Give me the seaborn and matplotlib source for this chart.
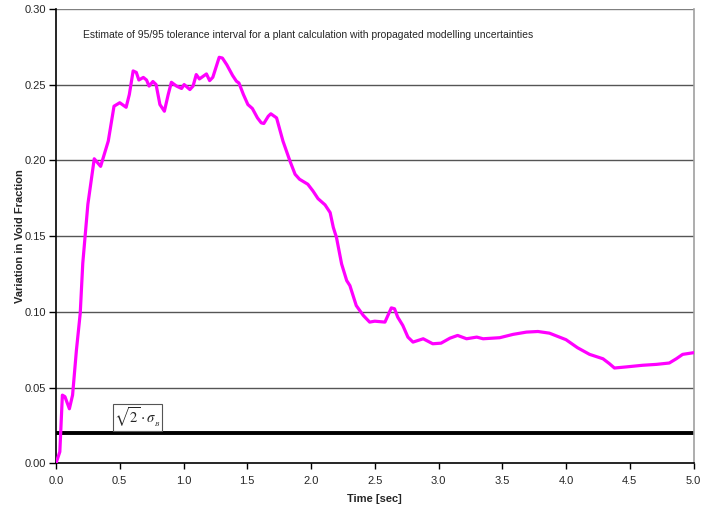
import matplotlib
matplotlib.use("Agg")
import matplotlib.pyplot as plt
import seaborn as sns
import pandas as pd

time_sec = [0.0, 0.03, 0.05, 0.07, 0.105, 0.13, 0.16, 0.19, 0.21, 0.25, 0.30, 0.35, 0.41,
            0.455, 0.50, 0.55, 0.575, 0.605, 0.63, 0.65, 0.685, 0.71, 0.73, 0.76, 0.785,
            0.815, 0.85, 0.88, 0.905, 0.945, 0.985, 1.005, 1.05, 1.075, 1.10, 1.125, 1.18,
            1.205, 1.23, 1.28, 1.305, 1.34, 1.385, 1.415, 1.435, 1.47, 1.505, 1.54, 1.58,
            1.61, 1.63, 1.665, 1.685, 1.73, 1.78, 1.835, 1.875, 1.91, 1.975, 2.015, 2.055,
            2.11, 2.15, 2.175, 2.20, 2.24, 2.28, 2.305, 2.355, 2.41, 2.46, 2.50, 2.58, 2.63,
            2.655, 2.68, 2.72, 2.76, 2.80, 2.88, 2.955, 3.02, 3.09, 3.15, 3.22, 3.30, 3.35,
            3.48, 3.585, 3.69, 3.78, 3.87, 4.0, 4.09, 4.185, 4.29, 4.34, 4.38, 4.47, 4.60,
            4.71, 4.81, 4.865, 4.915, 5.0]
void_variation = [0.0, 0.0076, 0.045, 0.044, 0.036, 0.045, 0.0745, 0.099, 0.132, 0.171, 0.201,
                  0.196, 0.2127, 0.2357, 0.238, 0.235, 0.2434, 0.259, 0.258, 0.253, 0.2547,
                  0.253, 0.249, 0.252, 0.25, 0.2368, 0.2324, 0.2434, 0.2515, 0.249, 0.2474,
                  0.25, 0.2467, 0.249, 0.2566, 0.2537, 0.257, 0.2526, 0.2548, 0.268, 0.2675,
                  0.263, 0.256, 0.2522, 0.251, 0.2434, 0.2368, 0.2342, 0.228, 0.2247, 0.2243,
                  0.2291, 0.2307, 0.228, 0.2127, 0.1995, 0.1908, 0.1875, 0.1842, 0.1798,
                  0.1747, 0.1706, 0.1655, 0.1557, 0.149, 0.1316, 0.1206, 0.1173, 0.1041,
                  0.0976, 0.0932, 0.0938, 0.0932, 0.1026, 0.102, 0.0965, 0.091, 0.0833, 0.080,
                  0.0822, 0.0789, 0.0793, 0.0826, 0.0844, 0.0822, 0.0833, 0.0822, 0.0829,
                  0.0851, 0.0866, 0.087, 0.0859, 0.0816, 0.0763, 0.0719, 0.069, 0.0658, 0.0629,
                  0.0636, 0.0647, 0.0653, 0.0662, 0.069, 0.0719, 0.073]
threshold = 0.02
y_ticks = [0.00, 0.05, 0.10, 0.15, 0.20, 0.25, 0.30]
x_ticks = [0.0, 0.5, 1.0, 1.5, 2.0, 2.5, 3.0, 3.5, 4.0, 4.5, 5.0]
title_text = "Estimate of 95/95 tolerance interval for a plant calculation with propagated modelling uncertainties"
x_label = "Time [sec]"
y_label = "Variation in Void Fraction"

sns.set_style("white")
plt.rcParams['font.family'] = ['Liberation Sans', 'DejaVu Sans']
plt.rcParams['mathtext.fontset'] = 'stix'

df = pd.DataFrame({"t": time_sec, "v": void_variation})

fig = plt.figure(figsize=(7.15, 5.08), dpi=100)
ax = fig.add_axes([56/715, 1-463.3/508, (693.5-56)/715, (463.3-8.8)/508])

for yt in y_ticks[1:]:
    ax.axhline(yt, color="#555555" if yt != 0.30 else "#808080", lw=1.0, zorder=1)

sns.lineplot(data=df, x="t", y="v", ax=ax, color="#FF00FF", lw=2.3, zorder=3)
ax.axhline(threshold, color="black", lw=2.8, zorder=2)

ax.set_xlim(0, 5.0)
ax.set_ylim(0, 0.30)
ax.set_xticks(x_ticks)
ax.set_xticklabels([f"{v:.1f}" for v in x_ticks], fontsize=8)
ax.set_yticks(y_ticks)
ax.set_yticklabels([f"{v:.2f}" for v in y_ticks], fontsize=8)
ax.tick_params(axis="x", direction="out", length=4, width=1, color="black", pad=5, bottom=True)
ax.tick_params(axis="y", direction="out", length=5, width=1, color="black", pad=2, left=True)
ax.set_xlabel(x_label, fontsize=8, fontweight="bold", labelpad=6)
ax.set_ylabel(y_label, fontsize=8, fontweight="bold")
ax.yaxis.set_label_coords(-0.049, 0.5)

for side in ["left", "bottom"]:
    ax.spines[side].set_color("black")
    ax.spines[side].set_linewidth(1.2)
ax.spines["right"].set_color("#A0A0A0")
ax.spines["right"].set_linewidth(1.2)
ax.spines["top"].set_visible(False)

ax.text(0.21, 0.283, title_text, fontsize=7.5, va="center", ha="left")
ax.text(0.64, 0.0302, r"$\sqrt{2}\cdot\sigma_{_B}$", fontsize=10.5, ha="center", va="center",
        bbox=dict(boxstyle="square,pad=0.1", fc="white", ec="#555555", lw=0.8), zorder=4)

fig.savefig("out.png", dpi=100)
